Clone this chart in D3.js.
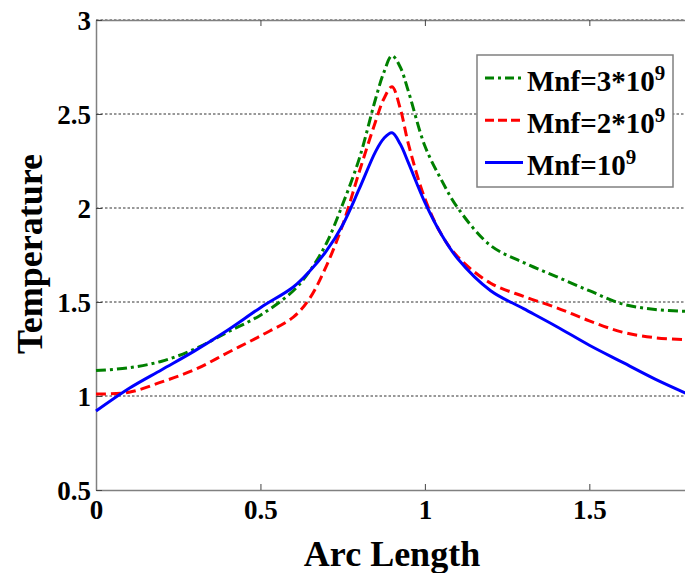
<!DOCTYPE html>
<html>
<head>
<meta charset="utf-8">
<script src="https://cdn.jsdelivr.net/npm/d3@7"></script>
<style>
  body { margin: 0; background: #fff; }
  text { font-family: "Liberation Serif", "Times New Roman", serif; font-weight: bold; }
</style>
</head>
<body>
<svg id="chart" width="685" height="573"></svg>
<script>
// arc length samples
var arcLength = [0, 0.1, 0.2, 0.3, 0.4, 0.5, 0.6, 0.65, 0.7, 0.75, 0.8, 0.85, 0.875, 0.9, 0.925, 0.95, 1.0, 1.05, 1.1, 1.2, 1.3, 1.4, 1.5, 1.6, 1.7, 1.8];

// temperature for each Mnf
var temp3e9 = [1.135, 1.15, 1.185, 1.25, 1.34, 1.43, 1.56, 1.665, 1.81, 2.02, 2.26, 2.58, 2.72, 2.81, 2.75, 2.62, 2.33, 2.15, 2.00, 1.80, 1.71, 1.635, 1.56, 1.49, 1.46, 1.45];
var temp2e9 = [1.01, 1.02, 1.075, 1.14, 1.23, 1.32, 1.42, 1.52, 1.69, 1.91, 2.19, 2.46, 2.58, 2.645, 2.53, 2.34, 2.05, 1.86, 1.74, 1.60, 1.53, 1.47, 1.40, 1.34, 1.31, 1.30];
var temp1e9 = [0.92, 1.04, 1.14, 1.24, 1.35, 1.47, 1.58, 1.665, 1.77, 1.91, 2.10, 2.30, 2.37, 2.40, 2.34, 2.24, 2.03, 1.86, 1.73, 1.56, 1.465, 1.37, 1.27, 1.18, 1.09, 1.01];

var xTicks = [0, 0.5, 1, 1.5];
var yTicks = [0.5, 1, 1.5, 2, 2.5, 3];
var gridTicks = [1, 1.5, 2, 2.5, 3];

var series = [
  {base: "Mnf=3*10", sup: "9", values: temp3e9, color: "#008000", dash: "10,4,3,4", legendDash: "9,4,3,4"},
  {base: "Mnf=2*10", sup: "9", values: temp2e9, color: "#ff0000", dash: "10,5", legendDash: "9,4"},
  {base: "Mnf=10", sup: "9", values: temp1e9, color: "#0000ff", dash: null, legendDash: null}
];

var svg = d3.select("#chart"),
    margin = {top: 20, left: 96},
    plotW = 592,
    plotH = 470,
    g = svg.append("g").attr("transform", "translate(" + margin.left + "," + margin.top + ")");

var x = d3.scaleLinear().domain([0, 1.8]).range([0, plotW]);
var y = d3.scaleLinear().domain([0.5, 3]).range([plotH, 0]);

// grid
g.append("g")
  .selectAll("line")
  .data(gridTicks)
  .enter().append("line")
    .attr("x1", 0)
    .attr("x2", plotW)
    .attr("y1", function(d) { return y(d); })
    .attr("y2", function(d) { return y(d); })
    .attr("stroke", "#333")
    .attr("stroke-width", 1)
    .attr("stroke-dasharray", "2.5,2");

// axes
var xAxis = g.append("g")
    .attr("transform", "translate(0," + plotH + ")")
    .call(d3.axisBottom(x).tickValues(xTicks).tickSizeInner(-6).tickSizeOuter(0).tickPadding(10).tickFormat(d3.format("")));
var xTop = g.append("g")
    .call(d3.axisTop(x).tickValues(xTicks).tickSizeInner(-6).tickSizeOuter(0).tickFormat(""));
var yAxis = g.append("g")
    .call(d3.axisLeft(y).tickValues(yTicks).tickSizeInner(-6).tickSizeOuter(0).tickPadding(5).tickFormat(d3.format("")));

[xAxis, xTop, yAxis].forEach(function(a) {
  a.select(".domain").attr("stroke", "#808080").attr("stroke-width", 1.5);
  a.selectAll(".tick line").attr("stroke", "#444");
  a.selectAll(".tick text").attr("fill", "#000").style("font-size", "27px");
});
yAxis.selectAll(".tick text").attr("dy", "0.36em");
xAxis.selectAll(".tick text").attr("dy", "0.72em");

// lines
var line = d3.line()
    .curve(d3.curveCatmullRom.alpha(0.5))
    .x(function(d, i) { return x(arcLength[i]); })
    .y(function(d) { return y(d); });

series.forEach(function(s) {
  g.append("path")
    .datum(s.values)
    .attr("fill", "none")
    .attr("stroke", s.color)
    .attr("stroke-width", 3)
    .attr("stroke-dasharray", s.dash)
    .attr("d", line);
});

// axis titles
svg.append("text")
  .attr("x", 392)
  .attr("y", 566)
  .attr("text-anchor", "middle")
  .style("font-size", "36px")
  .text("Arc Length");

svg.append("text")
  .attr("transform", "translate(42,254) rotate(-90)")
  .attr("text-anchor", "middle")
  .style("font-size", "36px")
  .text("Temperature");

// legend
var legend = svg.append("g").attr("transform", "translate(477,55)");
legend.append("rect")
  .attr("width", 196)
  .attr("height", 132)
  .attr("fill", "#fff")
  .attr("stroke", "#808080")
  .attr("stroke-width", 1.5);

var item = legend.selectAll(".item")
  .data(series)
  .enter().append("g")
    .attr("transform", function(d, i) { return "translate(0," + (23 + i * 42.2) + ")"; });

item.append("line")
  .attr("x1", 8)
  .attr("x2", 46)
  .attr("stroke", function(d) { return d.color; })
  .attr("stroke-width", 3)
  .attr("stroke-dasharray", function(d) { return d.legendDash; });

var label = item.append("text")
  .attr("x", 50)
  .attr("y", 13)
  .style("font-size", "29px");
label.append("tspan").text(function(d) { return d.base; });
label.append("tspan")
  .attr("dy", -11)
  .style("font-size", "21px")
  .text(function(d) { return d.sup; });
</script>
</body>
</html>
